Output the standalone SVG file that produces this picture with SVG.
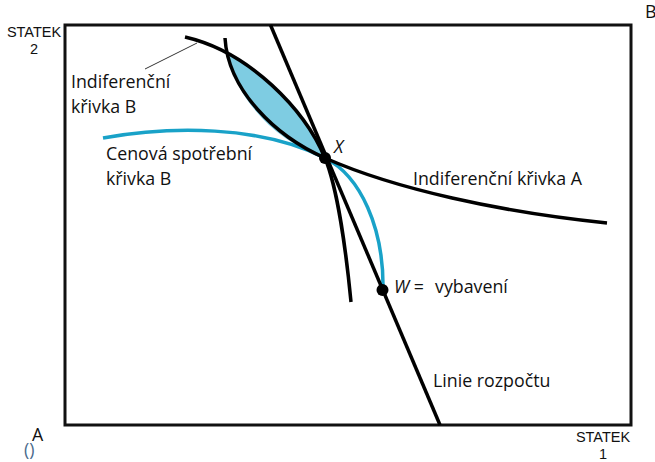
<svg xmlns="http://www.w3.org/2000/svg" width="655" height="462" viewBox="0 0 655 462">
<style>
.frame{fill:none;stroke:#111;stroke-width:3}
.curve{fill:none;stroke:#000;stroke-width:3.5;stroke-linecap:butt}
.blue{fill:none;stroke:#19A2C8;stroke-width:3.5}
.lens{fill:#7ECCE2;stroke:none}
.lbl{font-family:"Open Sans","Noto Sans",sans-serif;font-size:17.8px;fill:#111}
.ax{font-family:"Liberation Sans",Arial,sans-serif;font-size:14.5px;fill:#111}
.it{font-style:italic}
.dot{fill:#000}
</style>
<rect fill="#fff" width="655" height="462"/>
<g id="frame"><rect class="frame" x="65" y="25" width="566" height="400"/></g>
<g id="lens"><path class="lens" d="M222.6,50.7 C270.6,74.8 309,119.6 325,158 C274.4,141.4 234.8,97.8 226.5,50.4 Z"/></g>
<g id="connectors">
<path id="price-consumption" class="blue" d="M103,138 C170,126 260,125 325,158 C360.5,176 384,228 383,290"/>
<path id="indiff-A" class="curve" d="M225,38 C228,90 275,136 325,158 C395,189 500,212 607,223"/>
<path id="indiff-B" class="curve" d="M185,37 C250,52 305,110 325,158 C337,187 346,250 351,302"/>
<path id="budget" class="curve" d="M270.5,25 L440,425"/>
<path id="pointer" fill="none" stroke="#333" stroke-width="1" d="M145,69 L197,43"/>
</g>
<g id="X"><circle class="dot" cx="325" cy="158" r="6"/><text class="lbl it" x="334" y="153">X</text></g>
<g id="W"><circle class="dot" cx="382.5" cy="290" r="6"/><text class="lbl" x="394" y="293"><tspan class="it">W</tspan> = </text><text class="lbl" x="435" y="293">vybavení</text></g>
<g id="label-indiff-B"><text class="lbl" x="71" y="88">Indiferenční</text><text class="lbl" x="71" y="113">křivka B</text></g>
<g id="label-pcc"><text class="lbl" x="106" y="160">Cenová spotřební</text><text class="lbl" x="106" y="185">křivka B</text></g>
<g id="label-indiff-A"><text class="lbl" x="413" y="185">Indiferenční křivka A</text></g>
<g id="label-budget"><text class="lbl" x="433" y="387">Linie rozpočtu</text></g>
<g id="axis-labels">
<text class="ax" x="34" y="37" text-anchor="middle">STATEK</text>
<text class="ax" x="34" y="54" text-anchor="middle">2</text>
<text class="ax" x="603" y="442" text-anchor="middle">STATEK</text>
<text class="ax" x="603" y="459" text-anchor="middle">1</text>
<text class="lbl" x="645" y="18" font-size="15">B</text>
<text class="lbl" x="32" y="441" font-size="16">A</text>
<text class="lbl" x="24" y="456" font-size="14" style="fill:#4A6A8C">()</text>
</g>
</svg>
